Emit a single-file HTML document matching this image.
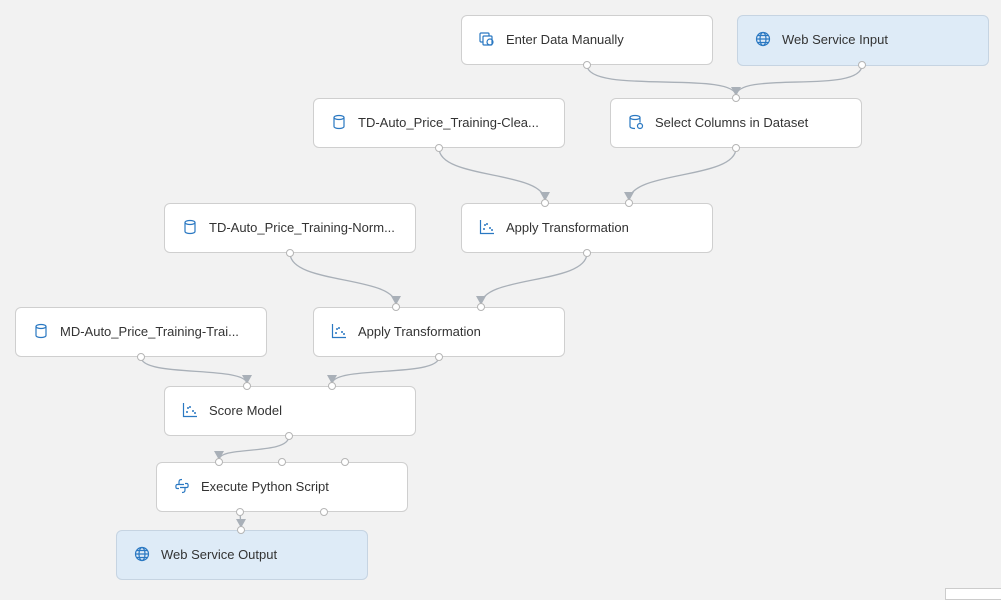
<!DOCTYPE html>
<html><head><style>
body{margin:0;width:1001px;height:592px;background:#f2f2f2;position:relative;overflow:hidden;font-family:"Liberation Sans",sans-serif}
.n{position:absolute;width:252px;height:50px;background:#fff;border:1px solid #cfcfcf;border-radius:6px;box-sizing:border-box}
.n.b{background:#deebf7;border-color:#c6d4e2}
.n span{position:absolute;left:44px;top:16px;font-size:13px;color:#333;white-space:nowrap}
.n svg{position:absolute;left:17px;top:15px}
svg.c{position:absolute;left:0;top:0}
</style></head><body>
<svg class="c" width="1001" height="592">
<g fill="none" stroke="#a9b0b8" stroke-width="1.3">
<path d="M587 65 C587 95 736 70 736 96"/>
<path d="M862 65 C862 95 736 70 736 96"/>
<path d="M439 148 C439 180 545 170 545 201"/>
<path d="M736 148 C736 180 629 170 629 201"/>
<path d="M290 253 C290 285 396 275 396 305"/>
<path d="M587 253 C587 285 481 275 481 305"/>
<path d="M141 357 C141 378 247 365 247 384"/>
<path d="M439 357 C439 378 332 365 332 384"/>
<path d="M289 436 C289 456 219 445 219 460"/>
<path d="M240 512 L241 528"/>
</g>
<g fill="#a9b0b8">
<path d="M731 87 L741 87 L736 96Z"/><path d="M540 192 L550 192 L545 201Z"/><path d="M624 192 L634 192 L629 201Z"/>
<path d="M391 296 L401 296 L396 305Z"/><path d="M476 296 L486 296 L481 305Z"/>
<path d="M242 375 L252 375 L247 384Z"/><path d="M327 375 L337 375 L332 384Z"/>
<path d="M214 451 L224 451 L219 460Z"/><path d="M236 519 L246 519 L241 528Z"/>
</g>
</svg>
<div class="n" style="left:461px;top:15px"><svg width="16" height="16" viewBox="0 0 16 16" fill="none" stroke="#2a78c2" stroke-width="1.2"><rect x="1" y="2" width="9" height="9" rx="1"/><rect x="4" y="5" width="9" height="9" rx="1" fill="#fff"/><circle cx="11" cy="11" r="3"/></svg><span>Enter Data Manually</span></div>
<div class="n b" style="left:737px;top:15px;height:51px"><svg width="16" height="16" viewBox="0 0 16 16" fill="none" stroke="#2a78c2" stroke-width="1.2"><circle cx="8" cy="8" r="6.5"/><ellipse cx="8" cy="8" rx="3" ry="6.5"/><path d="M1.5 8h13M3 4.5h10M3 11.5h10"/></svg><span>Web Service Input</span></div>
<div class="n" style="left:313px;top:98px"><svg width="16" height="16" viewBox="0 0 16 16" fill="none" stroke="#2a78c2" stroke-width="1.2"><ellipse cx="8" cy="3.5" rx="5" ry="2"/><path d="M3 3.5v9c0 1.1 2.2 2 5 2s5-.9 5-2v-9"/></svg><span>TD-Auto_Price_Training-Clea...</span></div>
<div class="n" style="left:610px;top:98px"><svg width="16" height="16" viewBox="0 0 16 16" fill="none" stroke="#2a78c2" stroke-width="1.2"><ellipse cx="7" cy="3.5" rx="5" ry="2"/><path d="M2 3.5v9c0 1.1 2 2 5 2M12 3.5v5"/><circle cx="12" cy="12" r="2.5"/></svg><span>Select Columns in Dataset</span></div>
<div class="n" style="left:164px;top:203px"><svg width="16" height="16" viewBox="0 0 16 16" fill="none" stroke="#2a78c2" stroke-width="1.2"><ellipse cx="8" cy="3.5" rx="5" ry="2"/><path d="M3 3.5v9c0 1.1 2.2 2 5 2s5-.9 5-2v-9"/></svg><span>TD-Auto_Price_Training-Norm...</span></div>
<div class="n" style="left:461px;top:203px"><svg width="16" height="16" viewBox="0 0 16 16" fill="#2a78c2" stroke="#2a78c2" stroke-width="1.2"><path d="M1.5 1v13.5H15" fill="none"/><circle cx="5" cy="10" r="1" stroke="none"/><circle cx="8" cy="5" r="1" stroke="none"/><circle cx="11" cy="9" r="1" stroke="none"/><circle cx="6" cy="6" r="1" stroke="none"/><circle cx="13" cy="11" r="1" stroke="none"/></svg><span>Apply Transformation</span></div>
<div class="n" style="left:15px;top:307px"><svg width="16" height="16" viewBox="0 0 16 16" fill="none" stroke="#2a78c2" stroke-width="1.2"><ellipse cx="8" cy="3.5" rx="5" ry="2"/><path d="M3 3.5v9c0 1.1 2.2 2 5 2s5-.9 5-2v-9"/></svg><span>MD-Auto_Price_Training-Trai...</span></div>
<div class="n" style="left:313px;top:307px"><svg width="16" height="16" viewBox="0 0 16 16" fill="#2a78c2" stroke="#2a78c2" stroke-width="1.2"><path d="M1.5 1v13.5H15" fill="none"/><circle cx="5" cy="10" r="1" stroke="none"/><circle cx="8" cy="5" r="1" stroke="none"/><circle cx="11" cy="9" r="1" stroke="none"/><circle cx="6" cy="6" r="1" stroke="none"/><circle cx="13" cy="11" r="1" stroke="none"/></svg><span>Apply Transformation</span></div>
<div class="n" style="left:164px;top:386px;height:50px"><svg width="16" height="16" viewBox="0 0 16 16" fill="#2a78c2" stroke="#2a78c2" stroke-width="1.2"><path d="M1.5 1v13.5H15" fill="none"/><circle cx="5" cy="10" r="1" stroke="none"/><circle cx="8" cy="5" r="1" stroke="none"/><circle cx="11" cy="9" r="1" stroke="none"/><circle cx="6" cy="6" r="1" stroke="none"/><circle cx="13" cy="11" r="1" stroke="none"/></svg><span>Score Model</span></div>
<div class="n" style="left:156px;top:462px;height:50px"><svg width="16" height="16" viewBox="0 0 16 16" fill="none" stroke="#2a78c2" stroke-width="1.2"><path d="M8 1.5c-3 0-3 1.5-3 3v2h5M5 6.5H3c-1.5 0-1.5 4 0 4h2M8 14.5c3 0 3-1.5 3-3v-2H6M11 9.5h2c1.5 0 1.5-4 0-4h-2"/></svg><span>Execute Python Script</span></div>
<div class="n b" style="left:116px;top:530px;height:50px"><svg width="16" height="16" viewBox="0 0 16 16" fill="none" stroke="#2a78c2" stroke-width="1.2"><circle cx="8" cy="8" r="6.5"/><ellipse cx="8" cy="8" rx="3" ry="6.5"/><path d="M1.5 8h13M3 4.5h10M3 11.5h10"/></svg><span>Web Service Output</span></div>
<svg class="c" width="1001" height="592"><g fill="#fff" stroke="#b5b5b5" stroke-width="1">
<circle cx="587" cy="65" r="3.5"/><circle cx="862" cy="65" r="3.5"/><circle cx="736" cy="98" r="3.5"/><circle cx="736" cy="148" r="3.5"/><circle cx="439" cy="148" r="3.5"/>
<circle cx="545" cy="203" r="3.5"/><circle cx="629" cy="203" r="3.5"/><circle cx="587" cy="253" r="3.5"/><circle cx="290" cy="253" r="3.5"/>
<circle cx="396" cy="307" r="3.5"/><circle cx="481" cy="307" r="3.5"/><circle cx="439" cy="357" r="3.5"/><circle cx="141" cy="357" r="3.5"/>
<circle cx="247" cy="386" r="3.5"/><circle cx="332" cy="386" r="3.5"/><circle cx="289" cy="436" r="3.5"/>
<circle cx="219" cy="462" r="3.5"/><circle cx="282" cy="462" r="3.5"/><circle cx="345" cy="462" r="3.5"/><circle cx="240" cy="512" r="3.5"/><circle cx="324" cy="512" r="3.5"/><circle cx="241" cy="530" r="3.5"/>
</g></svg>
<div style="position:absolute;left:945px;top:588px;width:60px;height:10px;background:#fff;border:1px solid #ccc"></div>
</body></html>
